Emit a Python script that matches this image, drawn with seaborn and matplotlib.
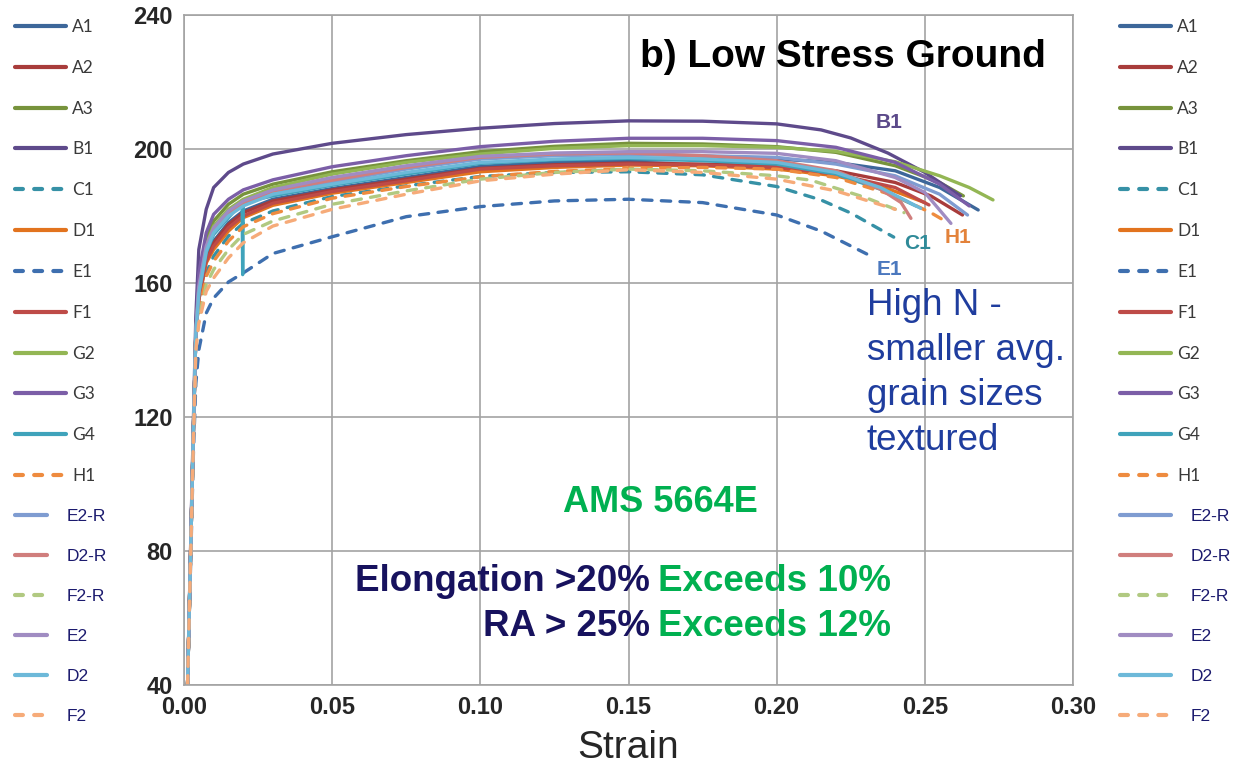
import matplotlib
matplotlib.use("Agg")
import matplotlib.pyplot as plt
import seaborn as sns
import pandas as pd
from matplotlib.lines import Line2D

# ---------------- data ----------------
SERIES = ["A1", "A2", "A3", "B1", "C1", "D1", "E1", "F1", "G2", "G3", "G4", "H1",
          "E2-R", "D2-R", "F2-R", "E2", "D2", "F2"]
COLORS = ["#3D679A", "#A83C3B", "#77933C", "#5E4A8B", "#3691A6", "#E2731E",
          "#3E6FAF", "#BE4B48", "#93B654", "#7B5EA7", "#3FA3BB", "#EE8B3F",
          "#7F9CD1", "#D07E7D", "#B1C981", "#A08CC2", "#6DB9D9", "#F6AB79"]
DASHED = ["C1", "E1", "H1", "F2-R", "F2"]

BASE_STRAIN = [0.0012, 0.0022, 0.0032, 0.0040, 0.005, 0.0075, 0.01, 0.015, 0.02,
               0.03, 0.05, 0.075, 0.10, 0.125, 0.15, 0.175, 0.20]

A1_STRESS = [40, 78, 117, 145, 156, 168, 172.5, 178, 181.5, 185, 188.2, 191.5, 194.8, 196, 196.5, 197, 197]
A1_TAIL_STRAIN = [0.22, 0.24, 0.255, 0.268]
A1_TAIL_STRESS = [196, 193.5, 188.5, 181.8]

A2_STRESS = [40, 78, 117, 145, 156, 167.5, 172, 177.5, 181, 184.5, 187.8, 191, 194.2, 195.3, 195.8, 195.5, 195]
A2_TAIL_STRAIN = [0.22, 0.24, 0.252, 0.2627]
A2_TAIL_STRESS = [193.5, 190, 186, 180.3]

A3_STRESS = [40, 79, 118, 146, 161, 173, 178.5, 183.5, 186.5, 189.5, 193.2, 196.5, 199.2, 200.8, 201.7, 201.5, 200.7]
A3_TAIL_STRAIN = [0.22, 0.24, 0.255, 0.263]
A3_TAIL_STRESS = [199, 195, 190, 186]

B1_STRESS = [40, 80, 120, 150, 170, 182, 188.5, 193, 195.5, 198.5, 201.7, 204.3, 206.2, 207.6, 208.4, 208.3, 207.5]
B1_TAIL_STRAIN = [0.215, 0.225, 0.2375, 0.25, 0.262]
B1_TAIL_STRESS = [205.7, 203.3, 198.8, 193, 186]

C1_STRESS = [40, 78, 116, 143, 152, 163, 168, 174, 177.8, 181.5, 185.8, 189, 191.8, 193, 193.2, 192.3, 188.8]
C1_TAIL_STRAIN = [0.2149, 0.225, 0.2395]
C1_TAIL_STRESS = [184.8, 180.9, 173.7]

D1_STRESS = [40, 78, 117, 145, 155, 166, 170, 175.5, 179.5, 183.2, 186.8, 190, 193.2, 194.5, 195.2, 195, 194]
D1_TAIL_STRAIN = [0.22, 0.238, 0.25]
D1_TAIL_STRESS = [192, 188, 184]

E1_STRESS = [40, 75, 110, 130, 140, 151, 155.5, 160.3, 163, 168.8, 173.8, 179.8, 182.8, 184.5, 185, 184, 180.3]
E1_TAIL_STRAIN = [0.215, 0.231]
E1_TAIL_STRESS = [175.5, 168.4]

F1_STRESS = [40, 78, 117, 145, 155, 166.5, 171, 176.5, 180, 183.8, 187.3, 190.5, 194, 195, 195.5, 195.2, 194.5]
F1_TAIL_STRAIN = [0.22, 0.24, 0.2514]
F1_TAIL_STRESS = [192.5, 188.5, 183.3]

G2_STRESS = [40, 78, 117, 145, 160, 171.5, 177, 182, 185, 188.5, 192.5, 196, 198.5, 200.2, 201, 201, 200.5]
G2_TAIL_STRAIN = [0.22, 0.24, 0.255, 0.265, 0.273]
G2_TAIL_STRESS = [199.3, 196.2, 192, 188.5, 184.8]

G3_STRESS = [40, 79, 118, 146, 163, 175, 180.5, 185, 187.8, 190.8, 194.7, 198, 200.7, 202.3, 203.2, 203.2, 202.5]
G3_TAIL_STRAIN = [0.22, 0.24, 0.255, 0.265]
G3_TAIL_STRESS = [200.5, 196, 189.5, 183]

G4_STRESS = [40, 78, 117, 145, 157, 169, 174.5, 179.5, 182.5, 186, 189.2, 192.5, 195.7, 196.8, 197.2, 196.5, 195.5]
G4_DROP_STRAIN = [0.0196, 0.0198, 0.0200]
G4_DROP_STRESS = [184, 162.5, 184]
G4_TAIL_STRAIN = [0.22, 0.235, 0.247]
G4_TAIL_STRESS = [192.5, 188, 183]

H1_STRESS = [40, 78, 116, 143, 151, 162, 166.5, 172.5, 176.8, 180.7, 185.3, 188.8, 191.7, 193.3, 194.2, 194.5, 194]
H1_TAIL_STRAIN = [0.22, 0.24, 0.252, 0.258]
H1_TAIL_STRESS = [191.5, 186, 181, 177.9]

E2R_STRESS = [40, 78, 117, 145, 158, 170, 175.5, 180.5, 183.5, 187, 190.2, 194, 197, 198, 198.3, 198, 197.5]
E2R_TAIL_STRAIN = [0.22, 0.24, 0.255, 0.2644]
E2R_TAIL_STRESS = [195.5, 192, 186.5, 180.3]

D2R_STRESS = [40, 78, 117, 145, 158, 170.5, 176, 181, 184, 187.5, 190.7, 194.5, 197.5, 198.5, 198.8, 198, 196.5]
D2R_TAIL_STRAIN = [0.22, 0.235, 0.242, 0.2453]
D2R_TAIL_STRESS = [193.5, 188, 184, 179.3]

F2R_STRESS = [40, 77, 115, 141, 149, 159.5, 164, 170, 174.5, 178.5, 183.5, 187.5, 191, 193, 194, 193.5, 192]
F2R_TAIL_STRAIN = [0.2115, 0.23, 0.243]
F2R_TAIL_STRESS = [190.7, 185.5, 181]

E2_STRESS = [40, 78, 117, 145, 159, 171, 176.5, 181.5, 184.5, 187.8, 191.5, 195, 197.8, 198.8, 199.2, 199.2, 198.7]
E2_TAIL_STRAIN = [0.22, 0.24, 0.25, 0.2588]
E2_TAIL_STRESS = [196.5, 191.5, 187, 177.8]

D2_STRESS = [40, 78, 117, 145, 157, 169.5, 175, 180, 183, 186.5, 189.5, 193, 196, 197, 197.5, 197, 196]
D2_TAIL_STRAIN = [0.22, 0.235, 0.2486]
D2_TAIL_STRESS = [193, 188.5, 182.3]

F2_STRESS = [40, 77, 114, 140, 148, 157.5, 161.5, 167.5, 172, 177, 182, 186.5, 190.5, 192.5, 193.8, 193, 191]
F2_TAIL_STRAIN = [0.22, 0.24]
F2_TAIL_STRESS = [187.5, 182]

CURVES = {
    "A1": (A1_STRESS, A1_TAIL_STRAIN, A1_TAIL_STRESS),
    "A2": (A2_STRESS, A2_TAIL_STRAIN, A2_TAIL_STRESS),
    "A3": (A3_STRESS, A3_TAIL_STRAIN, A3_TAIL_STRESS),
    "B1": (B1_STRESS, B1_TAIL_STRAIN, B1_TAIL_STRESS),
    "C1": (C1_STRESS, C1_TAIL_STRAIN, C1_TAIL_STRESS),
    "D1": (D1_STRESS, D1_TAIL_STRAIN, D1_TAIL_STRESS),
    "E1": (E1_STRESS, E1_TAIL_STRAIN, E1_TAIL_STRESS),
    "F1": (F1_STRESS, F1_TAIL_STRAIN, F1_TAIL_STRESS),
    "G2": (G2_STRESS, G2_TAIL_STRAIN, G2_TAIL_STRESS),
    "G3": (G3_STRESS, G3_TAIL_STRAIN, G3_TAIL_STRESS),
    "G4": (G4_STRESS, G4_DROP_STRAIN + G4_TAIL_STRAIN, G4_DROP_STRESS + G4_TAIL_STRESS),
    "H1": (H1_STRESS, H1_TAIL_STRAIN, H1_TAIL_STRESS),
    "E2-R": (E2R_STRESS, E2R_TAIL_STRAIN, E2R_TAIL_STRESS),
    "D2-R": (D2R_STRESS, D2R_TAIL_STRAIN, D2R_TAIL_STRESS),
    "F2-R": (F2R_STRESS, F2R_TAIL_STRAIN, F2R_TAIL_STRESS),
    "E2": (E2_STRESS, E2_TAIL_STRAIN, E2_TAIL_STRESS),
    "D2": (D2_STRESS, D2_TAIL_STRAIN, D2_TAIL_STRESS),
    "F2": (F2_STRESS, F2_TAIL_STRAIN, F2_TAIL_STRESS),
}

X_TICKS = [0.00, 0.05, 0.10, 0.15, 0.20, 0.25, 0.30]
Y_TICKS = [40, 80, 120, 160, 200, 240]

CURVE_LABELS = ["B1", "C1", "H1", "E1"]
CURVE_LABEL_POS = [(0.2378, 207.8), (0.2476, 171.9), (0.2611, 173.7), (0.2382, 163.9)]
CURVE_LABEL_COLORS = ["#5C4A8A", "#2F8A98", "#E3823A", "#4B78BE"]

HIGH_N_LINES = ["High N -", "smaller avg.", "grain sizes", "textured"]

# ---------------- build long table ----------------
rows = []
for name in SERIES:
    base, tx, ty = CURVES[name]
    pts = list(zip(BASE_STRAIN, base)) + list(zip(tx, ty))
    pts.sort(key=lambda p: p[0])
    for s, v in pts:
        rows.append({"series": name, "strain": s, "stress": v})
df = pd.DataFrame(rows)

# ---------------- styling ----------------
sns.set_style("white")
plt.rcParams["font.family"] = ["Liberation Sans", "DejaVu Sans"]

W, H = 1246, 765
fig = plt.figure(figsize=(W / 100, H / 100), dpi=100)
ax = fig.add_axes([184 / W, 1 - 685 / H, (1073 - 184) / W, (685 - 15) / H])

GRID = "#A3A3A3"
LW = 2.4
for name, color in zip(SERIES, COLORS):
    sub = df[df["series"] == name]
    sns.lineplot(data=sub, x="strain", y="stress", ax=ax, color=color, lw=LW,
                 estimator=None, sort=False, legend=False)
    line = ax.lines[-1]
    line.set_solid_capstyle("round")
    line.set_solid_joinstyle("round")
    if name in DASHED:
        line.set_dashes([2.8, 2.8])
        line.set_dash_capstyle("round")

ax.set_xlim(0, 0.30)
ax.set_ylim(40, 240)
ax.set_xticks(X_TICKS)
ax.set_yticks(Y_TICKS)
ax.set_xticklabels([f"{t:.2f}" for t in X_TICKS])
ax.set_yticklabels([str(t) for t in Y_TICKS])
ax.grid(True, color=GRID, lw=1.2)
ax.set_axisbelow(True)
for sp in ax.spines.values():
    sp.set_color(GRID)
    sp.set_linewidth(1.2)
    sp.set_visible(True)
ax.tick_params(axis="both", which="major", length=5, width=1.2, color=GRID,
               direction="out", labelsize=17, pad=3)
for lab in ax.get_xticklabels() + ax.get_yticklabels():
    lab.set_fontweight("bold")
ax.set_xlabel("Strain", fontsize=28, labelpad=8)
ax.set_ylabel("")

# curve annotations
for txt, (xx, yy), c in zip(CURVE_LABELS, CURVE_LABEL_POS, CURVE_LABEL_COLORS):
    ax.text(xx, yy, txt, color=c, fontsize=15, fontweight="bold", ha="center", va="center")

ax.text(0.154, 227.5, "b) Low Stress Ground", fontsize=28, fontweight="bold",
        color="black", ha="left", va="center")
ax.text(0.1608, 94.5, "AMS 5664E", fontsize=26, fontweight="bold",
        color="#00B050", ha="center", va="center")
NAVY = "#17125E"
GREEN = "#00B050"
ax.text(0.1571, 70.8, "Elongation >20%", fontsize=26.5, fontweight="bold",
        color=NAVY, ha="right", va="center")
ax.text(0.1601, 70.8, "Exceeds 10%", fontsize=26.5, fontweight="bold",
        color=GREEN, ha="left", va="center")
ax.text(0.1571, 57.4, "RA > 25%", fontsize=26.5, fontweight="bold",
        color=NAVY, ha="right", va="center")
ax.text(0.1601, 57.4, "Exceeds 12%", fontsize=26.5, fontweight="bold",
        color=GREEN, ha="left", va="center")
for i, line_txt in enumerate(HIGH_N_LINES):
    ax.text(0.2304, 153.2 - i * 13.4, line_txt, fontsize=26.5, color="#1F3D9E",
            ha="left", va="center")

# ---------------- legends ----------------
def handle(name, color):
    h = Line2D([], [], color=color, lw=3.0, solid_capstyle="round")
    if name in DASHED:
        h.set_dashes([1.9, 2.7])
        h.set_dash_capstyle("round")
    return h

handles = [handle(n, c) for n, c in zip(SERIES, COLORS)]
FS = 12.5
common = dict(frameon=False, fontsize=FS, loc="upper left", borderpad=0,
              borderaxespad=0, labelspacing=1.43, bbox_transform=fig.transFigure)

def add_leg(hs, labs, x, y, hl, pad, tcolor, family):
    leg = fig.legend(hs, labs, bbox_to_anchor=(x / W, 1 - y / H),
                     handlelength=hl, handletextpad=pad, **common)
    for t in leg.get_texts():
        t.set_color(tcolor)
        t.set_fontfamily(family)
    return leg

add_leg(handles[:12], SERIES[:12], 15, 19, 2.95, 0.35, "#3A3A3A", ["Lato", "DejaVu Sans"])
add_leg(handles[12:], SERIES[12:], 15, 509, 1.85, 1.1, "#1B1A6E", ["Liberation Sans", "DejaVu Sans"])
add_leg(handles[:12], SERIES[:12], 1120, 19, 2.95, 0.35, "#3A3A3A", ["Lato", "DejaVu Sans"])
add_leg(handles[12:], SERIES[12:], 1120, 509, 2.95, 1.1, "#1B1A6E", ["Liberation Sans", "DejaVu Sans"])

fig.savefig("out.png", dpi=100)
